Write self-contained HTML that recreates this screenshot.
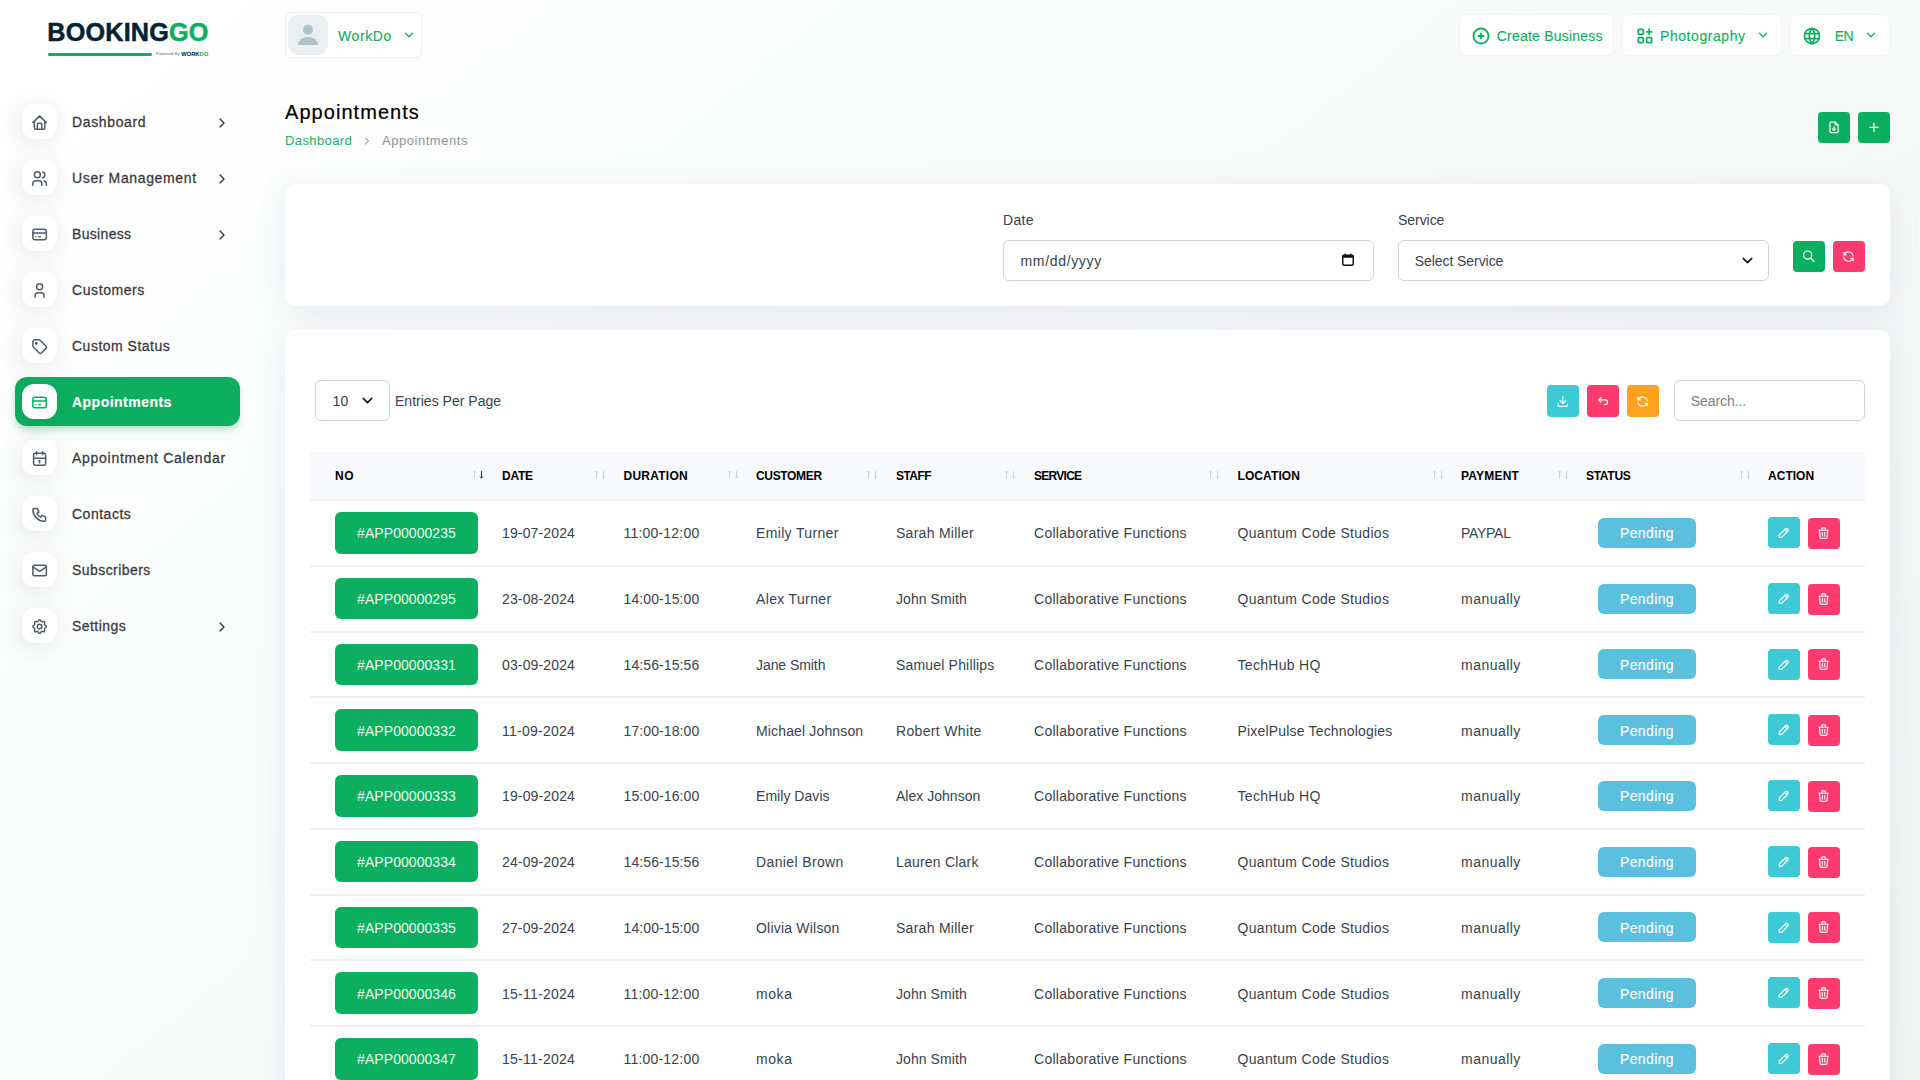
<!DOCTYPE html>
<html lang="en"><head><meta charset="utf-8"><title>Appointments</title>
<style>
*{box-sizing:border-box;margin:0;padding:0}
html,body{width:1920px;height:1080px;overflow:hidden;background:#fff}
body{font-family:"Liberation Sans", sans-serif;font-size:14px;color:#293240;position:relative;line-height:1.5}
a{color:inherit;text-decoration:none}
ul{list-style:none}
.abs{position:absolute}
.bg{position:absolute;left:0;top:0;width:1920px;height:1310px;background:linear-gradient(141.55deg,rgba(240,244,243,0) 3.46%,#f0f4f3 99.86%),#fff}
svg{display:block}
.tx{position:absolute;white-space:nowrap;line-height:1}
/* sidebar */
.side{position:absolute;left:0;top:0;width:280px;height:1080px}
.logo{position:absolute;left:47px;top:18px;width:165px;height:44px}
.nav li{position:absolute;left:15px;width:225px;height:49px;border-radius:12px}
.nav li.act{background:#0caf60;box-shadow:0 5px 7px -1px rgba(12,175,96,.3)}
.nav .mi{position:absolute;left:7px;top:7px;width:35px;height:35px;border-radius:12px;background:#fff;box-shadow:-3px 4px 23px rgba(0,0,0,.1)}
.nav .lbl{position:absolute;left:57px;top:18px;line-height:1;color:#333;white-space:nowrap}
.nav li.act .lbl{color:#fff}
.nav .arr{position:absolute;left:198.8px;top:17.5px}
/* header */
.hbox{position:absolute;background:#fff;border-radius:6px;box-shadow:0 0 0 1px rgba(0,0,0,.018),0 1px 2px rgba(0,0,0,.012)}
.card{position:absolute;background:#fff;border-radius:10px;box-shadow:0 6px 30px rgba(182,186,203,.3)}
.btn{position:absolute;border-radius:4px;display:block}
.btn svg{position:absolute}
.inp{position:absolute;background:#fff;border:1px solid #ced4da;border-radius:6px}
/* table */
.thead{position:absolute;left:25px;top:122px;width:1555px;height:47px;background:#f8f9fd}
.th{position:absolute;top:18px;line-height:1;color:#000;white-space:nowrap;text-transform:uppercase}
.row{position:absolute;left:25px;width:1555px;height:65.75px}
.row:before{content:'';position:absolute;left:0;top:-1px;width:100%;height:2px;background:#f0f0f0}
.cell{position:absolute;top:26.3px;line-height:1;white-space:nowrap;color:#293240}
.idb{position:absolute;left:25px;top:12.1px;width:143px;height:41.5px;border-radius:6px;background:#0caf60;color:#fff}
.ctr{position:absolute;left:0;width:100%;text-align:center;line-height:1;white-space:nowrap}
.badge{position:absolute;left:1288px;top:17.85px;width:98px;height:30px;border-radius:6px;background:#5bc0de;color:#fff}
.ab{position:absolute;width:32px;height:31px;border-radius:4px}
.sort{position:absolute;top:18px}
</style></head>
<body>
<div class="bg"></div>
<nav class="side">
<div class="logo"><span class="tx" style="left:0.3px;top:2px;font-size:25.2px;font-weight:700;letter-spacing:0.2px;-webkit-text-stroke:0.5px currentColor;color:#012333">BOOKING<b style="color:#0caf60">GO</b></span><i class="abs" style="left:1px;top:35.4px;width:104px;height:2.8px;border-radius:2px;background:#0caf60"></i><span class="tx" style="left:109px;top:34.4px;font-size:4.3px;color:#5b6670;letter-spacing:.05px">Powered By</span><span class="tx" style="left:134.2px;top:34px;font-size:5.8px;font-weight:700;color:#012333;letter-spacing:.0px">WORK<b style="color:#0caf60">DO</b></span></div>
<ul class="nav">
<li class="" style="top:97px"><a href="#"><span class="mi"><svg width="18" height="18" viewBox="-0.8 -0.8 24 24" fill="none" stroke="#525b69" stroke-width="2" stroke-linecap="round" stroke-linejoin="round" style="position:absolute;left:8px;top:9px;overflow:visible;" ><path d="M5 12l-2 0l9 -9l9 9l-2 0"/><path d="M5 12v7a2 2 0 0 0 2 2h10a2 2 0 0 0 2 -2v-7"/><path d="M9 21v-6a2 2 0 0 1 2 -2h2a2 2 0 0 1 2 2v6"/></svg></span><span class="lbl" style="font-size:14px;font-weight:400;opacity:0.97;-webkit-text-stroke:0.26px currentColor;letter-spacing:0.637px;">Dashboard</span><span class="arr"><svg width="16" height="16" viewBox="0 0 24 24" fill="none" stroke="#333" stroke-width="2" stroke-linecap="round" stroke-linejoin="round" style="" ><path d="M9 6l6 6l-6 6"/></svg></span></a></li>
<li class="" style="top:153px"><a href="#"><span class="mi"><svg width="18" height="18" viewBox="-0.8 -0.8 24 24" fill="none" stroke="#525b69" stroke-width="2" stroke-linecap="round" stroke-linejoin="round" style="position:absolute;left:8px;top:9px;overflow:visible;" ><path d="M9 7m-4 0a4 4 0 1 0 8 0a4 4 0 1 0 -8 0"/><path d="M3 21v-2a4 4 0 0 1 4 -4h4a4 4 0 0 1 4 4v2"/><path d="M16 3.13a4 4 0 0 1 0 7.75"/><path d="M21 21v-2a4 4 0 0 0 -3 -3.85"/></svg></span><span class="lbl" style="font-size:14px;font-weight:400;opacity:0.97;-webkit-text-stroke:0.26px currentColor;letter-spacing:0.634px;">User Management</span><span class="arr"><svg width="16" height="16" viewBox="0 0 24 24" fill="none" stroke="#333" stroke-width="2" stroke-linecap="round" stroke-linejoin="round" style="" ><path d="M9 6l6 6l-6 6"/></svg></span></a></li>
<li class="" style="top:209px"><a href="#"><span class="mi"><svg width="18" height="18" viewBox="-0.8 -0.8 24 24" fill="none" stroke="#525b69" stroke-width="2" stroke-linecap="round" stroke-linejoin="round" style="position:absolute;left:8px;top:9px;overflow:visible;" ><path d="M3 8a3 3 0 0 1 3 -3h12a3 3 0 0 1 3 3v8a3 3 0 0 1 -3 3h-12a3 3 0 0 1 -3 -3z"/><path d="M3 10l18 0"/><path d="M7 15l.01 0"/><path d="M11 15l2 0"/></svg></span><span class="lbl" style="font-size:14px;font-weight:400;opacity:0.97;-webkit-text-stroke:0.26px currentColor;letter-spacing:0.328px;">Business</span><span class="arr"><svg width="16" height="16" viewBox="0 0 24 24" fill="none" stroke="#333" stroke-width="2" stroke-linecap="round" stroke-linejoin="round" style="" ><path d="M9 6l6 6l-6 6"/></svg></span></a></li>
<li class="" style="top:265px"><a href="#"><span class="mi"><svg width="18" height="18" viewBox="-0.8 -0.8 24 24" fill="none" stroke="#525b69" stroke-width="2" stroke-linecap="round" stroke-linejoin="round" style="position:absolute;left:8px;top:9px;overflow:visible;" ><path d="M8 7a4 4 0 1 0 8 0a4 4 0 0 0 -8 0"/><path d="M6 21v-2a4 4 0 0 1 4 -4h4a4 4 0 0 1 4 4v2"/></svg></span><span class="lbl" style="font-size:14px;font-weight:400;opacity:0.97;-webkit-text-stroke:0.26px currentColor;letter-spacing:0.585px;">Customers</span></a></li>
<li class="" style="top:321px"><a href="#"><span class="mi"><svg width="18" height="18" viewBox="-0.8 -0.8 24 24" fill="none" stroke="#525b69" stroke-width="2" stroke-linecap="round" stroke-linejoin="round" style="position:absolute;left:8px;top:9px;overflow:visible;" ><path d="M7.5 7.5m-1 0a1 1 0 1 0 2 0a1 1 0 1 0 -2 0"/><path d="M3 6v5.172a2 2 0 0 0 .586 1.414l7.71 7.71a2.41 2.41 0 0 0 3.408 0l5.592 -5.592a2.41 2.41 0 0 0 0 -3.408l-7.71 -7.71a2 2 0 0 0 -1.414 -.586h-5.172a3 3 0 0 0 -3 3z"/></svg></span><span class="lbl" style="font-size:14px;font-weight:400;opacity:0.97;-webkit-text-stroke:0.26px currentColor;letter-spacing:0.495px;">Custom Status</span></a></li>
<li class="act" style="top:377px"><a href="#"><span class="mi"><svg width="18" height="18" viewBox="-0.8 -0.8 24 24" fill="none" stroke="#0caf60" stroke-width="2" stroke-linecap="round" stroke-linejoin="round" style="position:absolute;left:8px;top:9px;overflow:visible;" ><path d="M3 8a3 3 0 0 1 3 -3h12a3 3 0 0 1 3 3v8a3 3 0 0 1 -3 3h-12a3 3 0 0 1 -3 -3z"/><path d="M3 10l18 0"/><path d="M7 15l.01 0"/><path d="M11 15l2 0"/></svg></span><span class="lbl" style="font-size:14px;font-weight:700;-webkit-text-stroke:0.15px currentColor;letter-spacing:0.479px;">Appointments</span></a></li>
<li class="" style="top:433px"><a href="#"><span class="mi"><svg width="18" height="18" viewBox="-0.8 -0.8 24 24" fill="none" stroke="#525b69" stroke-width="2" stroke-linecap="round" stroke-linejoin="round" style="position:absolute;left:8px;top:9px;overflow:visible;" ><path d="M4 7a2 2 0 0 1 2 -2h12a2 2 0 0 1 2 2v12a2 2 0 0 1 -2 2h-12a2 2 0 0 1 -2 -2z"/><path d="M16 3l0 4"/><path d="M8 3l0 4"/><path d="M4 11.4l16 0"/><path d="M11 15h1"/><path d="M12 15v3"/></svg></span><span class="lbl" style="font-size:14px;font-weight:400;opacity:0.97;-webkit-text-stroke:0.26px currentColor;letter-spacing:0.724px;">Appointment Calendar</span></a></li>
<li class="" style="top:489px"><a href="#"><span class="mi"><svg width="18" height="18" viewBox="-0.8 -0.8 24 24" fill="none" stroke="#525b69" stroke-width="2" stroke-linecap="round" stroke-linejoin="round" style="position:absolute;left:8px;top:9px;overflow:visible;" ><path d="M5 4h4l2 5l-2.5 1.5a11 11 0 0 0 5 5l1.5 -2.5l5 2v4a2 2 0 0 1 -2 2a16 16 0 0 1 -15 -15a2 2 0 0 1 2 -2"/></svg></span><span class="lbl" style="font-size:14px;font-weight:400;opacity:0.97;-webkit-text-stroke:0.26px currentColor;letter-spacing:0.504px;">Contacts</span></a></li>
<li class="" style="top:545px"><a href="#"><span class="mi"><svg width="18" height="18" viewBox="-0.8 -0.8 24 24" fill="none" stroke="#525b69" stroke-width="2" stroke-linecap="round" stroke-linejoin="round" style="position:absolute;left:8px;top:9px;overflow:visible;" ><path d="M3 7a2 2 0 0 1 2 -2h14a2 2 0 0 1 2 2v10a2 2 0 0 1 -2 2h-14a2 2 0 0 1 -2 -2v-10z"/><path d="M3 7l9 6l9 -6"/></svg></span><span class="lbl" style="font-size:14px;font-weight:400;opacity:0.97;-webkit-text-stroke:0.26px currentColor;letter-spacing:0.432px;">Subscribers</span></a></li>
<li class="" style="top:601px"><a href="#"><span class="mi"><svg width="18" height="18" viewBox="-0.8 -0.8 24 24" fill="none" stroke="#525b69" stroke-width="2" stroke-linecap="round" stroke-linejoin="round" style="position:absolute;left:8px;top:9px;overflow:visible;" ><path d="M10.325 4.317c.426 -1.756 2.924 -1.756 3.35 0a1.724 1.724 0 0 0 2.573 1.066c1.543 -.94 3.31 .826 2.37 2.37a1.724 1.724 0 0 0 1.065 2.572c1.756 .426 1.756 2.924 0 3.35a1.724 1.724 0 0 0 -1.066 2.573c.94 1.543 -.826 3.31 -2.37 2.37a1.724 1.724 0 0 0 -2.572 1.065c-.426 1.756 -2.924 1.756 -3.35 0a1.724 1.724 0 0 0 -2.573 -1.066c-1.543 .94 -3.31 -.826 -2.37 -2.37a1.724 1.724 0 0 0 -1.065 -2.572c-1.756 -.426 -1.756 -2.924 0 -3.35a1.724 1.724 0 0 0 1.066 -2.573c-.94 -1.543 .826 -3.31 2.37 -2.37c1 .608 2.296 .07 2.572 -1.065z"/><path d="M9 12a3 3 0 1 0 6 0a3 3 0 0 0 -6 0"/></svg></span><span class="lbl" style="font-size:14px;font-weight:400;opacity:0.97;-webkit-text-stroke:0.26px currentColor;letter-spacing:0.453px;">Settings</span><span class="arr"><svg width="16" height="16" viewBox="0 0 24 24" fill="none" stroke="#333" stroke-width="2" stroke-linecap="round" stroke-linejoin="round" style="" ><path d="M9 6l6 6l-6 6"/></svg></span></a></li>
</ul></nav>
<header><div class="hbox" style="left:285px;top:12px;width:137px;height:46px;border:1px solid #f1f1f1;box-shadow:none;border-radius:5px"><span class="abs" style="left:2px;top:2px;width:40px;height:40px;border-radius:11px;background:#eaeff1;overflow:hidden"><svg width="40" height="40" viewBox="0 0 40 40"><circle cx="20" cy="14.8" r="5" fill="#b0c3cc"/><path d="M10 30 a10 8 0 0 1 20 0 z" fill="#b0c3cc"/></svg></span><span class="tx" style="font-size:14px;font-weight:400;-webkit-text-stroke:0.12px currentColor;letter-spacing:0.587px;left:52px;top:16px;color:#0caf60">WorkDo</span><span class="abs" style="left:116px;top:15px"><svg width="14" height="14" viewBox="0 0 24 24" fill="none" stroke="#0caf60" stroke-width="2.1" stroke-linecap="round" stroke-linejoin="round" style="" ><path d="M6 9l6 6l6 -6"/></svg></span></div>
<div class="hbox" style="left:1460px;top:15px;width:153px;height:40px"><span class="abs" style="left:11px;top:10.5px"><svg width="20" height="20" viewBox="0 0 24 24" fill="none" stroke="#0caf60" stroke-width="2.2" stroke-linecap="round" stroke-linejoin="round" style="" ><path d="M3 12a9 9 0 1 0 18 0a9 9 0 0 0 -18 0"/><path d="M9 12h6"/><path d="M12 9v6"/></svg></span><span class="tx" style="font-size:14px;font-weight:400;-webkit-text-stroke:0.12px currentColor;letter-spacing:0.221px;left:36.7px;top:14px;color:#0caf60">Create Business</span></div>
<div class="hbox" style="left:1623px;top:15px;width:158px;height:40px"><span class="abs" style="left:12px;top:10.5px"><svg width="20" height="20" viewBox="0 0 24 24" fill="none" stroke="#0caf60" stroke-width="2.1" stroke-linecap="round" stroke-linejoin="round" style="" ><path d="M4 5a1 1 0 0 1 1 -1h4a1 1 0 0 1 1 1v4a1 1 0 0 1 -1 1h-4a1 1 0 0 1 -1 -1z"/><path d="M4 15a1 1 0 0 1 1 -1h4a1 1 0 0 1 1 1v4a1 1 0 0 1 -1 1h-4a1 1 0 0 1 -1 -1z"/><path d="M14 15a1 1 0 0 1 1 -1h4a1 1 0 0 1 1 1v4a1 1 0 0 1 -1 1h-4a1 1 0 0 1 -1 -1z"/><path d="M14 7l6 0"/><path d="M17 4l0 6"/></svg></span><span class="tx" style="font-size:14px;font-weight:400;-webkit-text-stroke:0.12px currentColor;letter-spacing:0.566px;left:37px;top:14px;color:#0caf60">Photography</span><span class="abs" style="left:133px;top:13px"><svg width="14" height="14" viewBox="0 0 24 24" fill="none" stroke="#0caf60" stroke-width="2.1" stroke-linecap="round" stroke-linejoin="round" style="" ><path d="M6 9l6 6l6 -6"/></svg></span></div>
<div class="hbox" style="left:1791px;top:15px;width:98px;height:40px"><span class="abs" style="left:11px;top:10.5px"><svg width="20" height="20" viewBox="0 0 24 24" fill="none" stroke="#0caf60" stroke-width="2.1" stroke-linecap="round" stroke-linejoin="round" style="" ><path d="M3 12a9 9 0 1 0 18 0a9 9 0 0 0 -18 0"/><path d="M3.6 9h16.8"/><path d="M3.6 15h16.8"/><path d="M11.5 3a17 17 0 0 0 0 18"/><path d="M12.5 3a17 17 0 0 1 0 18"/></svg></span><span class="tx" style="font-size:14px;font-weight:400;-webkit-text-stroke:0.12px currentColor;letter-spacing:-0.449px;left:43.7px;top:14px;color:#0caf60">EN</span><span class="abs" style="left:73px;top:13px"><svg width="14" height="14" viewBox="0 0 24 24" fill="none" stroke="#0caf60" stroke-width="2.1" stroke-linecap="round" stroke-linejoin="round" style="" ><path d="M6 9l6 6l6 -6"/></svg></span></div></header>
<main><h4 class="tx" style="font-size:20px;font-weight:400;-webkit-text-stroke:0.2px currentColor;letter-spacing:1.048px;left:285px;top:102px;color:#000;font-size:20px">Appointments</h4>
<ul class="breadcrumb">
<li><a class="tx" style="font-size:13px;font-weight:400;opacity:0.955;letter-spacing:0.387px;left:285px;top:134px;color:#0caf60">Dashboard</a></li>
<li><span class="abs" style="left:361px;top:134.5px"><svg width="12" height="12" viewBox="0 0 24 24" fill="none" stroke="#6c757d" stroke-width="2" stroke-linecap="round" stroke-linejoin="round" style="" ><path d="M9 6l6 6l-6 6"/></svg></span>
<span class="tx" style="font-size:13px;font-weight:400;opacity:0.955;letter-spacing:0.540px;left:382px;top:134px;color:#8a9099">Appointments</span></li></ul>
<a class="btn" style="left:1818px;top:112px;width:32px;height:31px;background:#0caf60"><svg width="14" height="14" viewBox="-0 -0.6 24 24" fill="none" stroke="#fff" stroke-width="2" stroke-linecap="round" stroke-linejoin="round" style="position:absolute;left:9px;top:8px;overflow:visible;" ><path d="M14 3v4a1 1 0 0 0 1 1h4"/><path d="M17 21h-10a2 2 0 0 1 -2 -2v-14a2 2 0 0 1 2 -2h7l5 5v11a2 2 0 0 1 -2 2z"/><path d="M12 17v-6"/><path d="M9.5 14.5l2.5 2.5l2.5 -2.5"/></svg></a>
<a class="btn" style="left:1858px;top:112px;width:32px;height:31px;background:#0caf60"><svg width="14" height="14" viewBox="-0 -0.771 24 24" fill="none" stroke="#fff" stroke-width="2.1" stroke-linecap="round" stroke-linejoin="round" style="position:absolute;left:9px;top:8px;overflow:visible;" ><path d="M12 5l0 14"/><path d="M5 12l14 0"/></svg></a>
<section class="card" style="left:285px;top:184px;width:1605px;height:122px">
<label class="tx" style="font-size:14px;font-weight:400;opacity:0.925;letter-spacing:0.305px;left:718px;top:28.5px;color:#293240">Date</label>
<div class="inp" style="left:718px;top:56px;width:371px;height:41px"><span class="tx" style="font-size:14px;font-weight:400;opacity:0.925;letter-spacing:0.669px;left:16.5px;top:12.5px;color:#293240">mm/dd/yyyy</span><svg class="abs" style="left:336px;top:11px" width="16" height="16" viewBox="0 0 16 16"><rect x="2.75" y="3.25" width="10.5" height="10" rx="1.2" fill="none" stroke="#111" stroke-width="1.5"/><rect x="2.75" y="3.25" width="10.5" height="2.5" fill="#111"/><rect x="4.5" y="1.7" width="1.5" height="2.2" fill="#111"/><rect x="10" y="1.7" width="1.5" height="2.2" fill="#111"/></svg></div>
<label class="tx" style="font-size:14px;font-weight:400;opacity:0.925;letter-spacing:-0.047px;left:1113px;top:28.5px;color:#293240">Service</label>
<div class="inp" style="left:1113px;top:56px;width:371px;height:41px"><span class="tx" style="font-size:14px;font-weight:400;opacity:0.925;letter-spacing:-0.061px;left:15.7px;top:12.5px;color:#293240">Select Service</span><span class="abs" style="left:339.5px;top:10.5px"><svg width="17" height="17" viewBox="0 0 24 24" fill="none" stroke="#111" stroke-width="2.1" stroke-linecap="round" stroke-linejoin="round" style="" ><path d="M6 9l6 6l6 -6"/></svg></span></div>
<a class="btn" style="left:1508px;top:57px;width:32px;height:31px;background:#0caf60"><svg width="14" height="14" viewBox="-1.46 -0.429 24 24" fill="none" stroke="#fff" stroke-width="2" stroke-linecap="round" stroke-linejoin="round" style="position:absolute;left:8px;top:8px;overflow:visible;" ><path d="M3 10a7 7 0 1 0 14 0a7 7 0 1 0 -14 0"/><path d="M21 21l-6 -6"/></svg></a>
<a class="btn" style="left:1548px;top:57px;width:32px;height:31px;background:#ff3a6e"><svg width="14" height="14" viewBox="-0.857 -1.03 24 24" fill="none" stroke="#fff" stroke-width="2" stroke-linecap="round" stroke-linejoin="round" style="position:absolute;left:8px;top:8px;overflow:visible;" ><path d="M20 11a8.1 8.1 0 0 0 -15.5 -2m-.5 -4v4h4"/><path d="M4 13a8.1 8.1 0 0 0 15.5 2m.5 4v-4h-4"/></svg></a>
</section>
<section class="card" style="left:285px;top:330px;width:1605px;height:960px">
<div class="inp" style="left:30px;top:50px;width:75px;height:41px"><span class="tx" style="font-size:14px;font-weight:400;opacity:0.925;letter-spacing:0.219px;left:16.5px;top:12.5px;color:#293240">10</span><span class="abs" style="left:43px;top:10.5px"><svg width="17" height="17" viewBox="0 0 24 24" fill="none" stroke="#111" stroke-width="2.1" stroke-linecap="round" stroke-linejoin="round" style="" ><path d="M6 9l6 6l6 -6"/></svg></span></div>
<label class="tx" style="font-size:14px;font-weight:400;opacity:0.925;letter-spacing:0.016px;left:110px;top:64px;color:#293240">Entries Per Page</label>
<a class="btn" style="left:1262px;top:55px;width:32px;height:32px;background:#3ec9d6"><svg width="14" height="14" viewBox="-1.37 -0.343 24 24" fill="none" stroke="#fff" stroke-width="2" stroke-linecap="round" stroke-linejoin="round" style="position:absolute;left:8px;top:9px;overflow:visible;" ><path d="M4 17v2a2 2 0 0 0 2 2h12a2 2 0 0 0 2 -2v-2"/><path d="M7 11l5 5l5 -5"/><path d="M12 4l0 12"/></svg></a>
<a class="btn" style="left:1302px;top:55px;width:32px;height:32px;background:#ff3a6e"><svg width="14" height="14" viewBox="-1.37 -0 24 24" fill="none" stroke="#fff" stroke-width="2" stroke-linecap="round" stroke-linejoin="round" style="position:absolute;left:8px;top:9px;overflow:visible;" ><path d="M9 14l-4 -4l4 -4"/><path d="M5 10h11a4 4 0 1 1 0 8h-1"/></svg></a>
<a class="btn" style="left:1342px;top:55px;width:32px;height:32px;background:#ffa21d"><svg width="14" height="14" viewBox="-1.11 -1.03 24 24" fill="none" stroke="#fff" stroke-width="2" stroke-linecap="round" stroke-linejoin="round" style="position:absolute;left:8px;top:9px;overflow:visible;" ><path d="M20 11a8.1 8.1 0 0 0 -15.5 -2m-.5 -4v4h4"/><path d="M4 13a8.1 8.1 0 0 0 15.5 2m.5 4v-4h-4"/></svg></a>
<div class="inp" style="left:1389px;top:50px;width:191px;height:41px"><span class="tx" style="font-size:14px;font-weight:400;opacity:0.925;letter-spacing:-0.073px;left:15.7px;top:12.5px;color:#6c757d">Search...</span></div>
<div class="thead" role="row">
<span class="th" style="font-size:12px;font-weight:700;letter-spacing:0.656px;left:25px">NO</span>
<svg class="sort" style="left:163px" width="11" height="10" viewBox="0 0 11 10" fill="none" stroke-width="1" stroke-linecap="butt"><path d="M1.5 8.2V1M0 2.6L1.5 1L3 2.6" stroke="#cdd0d6"/><path d="M8.5 1v7.2M7 6.6L8.5 8.2L10 6.6" stroke="#33373e"/></svg>
<span class="th" style="font-size:12px;font-weight:700;letter-spacing:-0.234px;left:192px">DATE</span>
<svg class="sort" style="left:284.5px" width="11" height="10" viewBox="0 0 11 10" fill="none" stroke-width="1" stroke-linecap="butt"><path d="M1.5 8.2V1M0 2.6L1.5 1L3 2.6" stroke="#cdd0d6"/><path d="M8.5 1v7.2M7 6.6L8.5 8.2L10 6.6" stroke="#cdd0d6"/></svg>
<span class="th" style="font-size:12px;font-weight:700;letter-spacing:0.244px;left:313.5px">DURATION</span>
<svg class="sort" style="left:417.5px" width="11" height="10" viewBox="0 0 11 10" fill="none" stroke-width="1" stroke-linecap="butt"><path d="M1.5 8.2V1M0 2.6L1.5 1L3 2.6" stroke="#cdd0d6"/><path d="M8.5 1v7.2M7 6.6L8.5 8.2L10 6.6" stroke="#cdd0d6"/></svg>
<span class="th" style="font-size:12px;font-weight:700;letter-spacing:-0.332px;left:446px">CUSTOMER</span>
<svg class="sort" style="left:557px" width="11" height="10" viewBox="0 0 11 10" fill="none" stroke-width="1" stroke-linecap="butt"><path d="M1.5 8.2V1M0 2.6L1.5 1L3 2.6" stroke="#cdd0d6"/><path d="M8.5 1v7.2M7 6.6L8.5 8.2L10 6.6" stroke="#cdd0d6"/></svg>
<span class="th" style="font-size:12px;font-weight:700;letter-spacing:-0.553px;left:586px">STAFF</span>
<svg class="sort" style="left:695px" width="11" height="10" viewBox="0 0 11 10" fill="none" stroke-width="1" stroke-linecap="butt"><path d="M1.5 8.2V1M0 2.6L1.5 1L3 2.6" stroke="#cdd0d6"/><path d="M8.5 1v7.2M7 6.6L8.5 8.2L10 6.6" stroke="#cdd0d6"/></svg>
<span class="th" style="font-size:12px;font-weight:700;letter-spacing:-0.725px;left:724px">SERVICE</span>
<svg class="sort" style="left:898.5px" width="11" height="10" viewBox="0 0 11 10" fill="none" stroke-width="1" stroke-linecap="butt"><path d="M1.5 8.2V1M0 2.6L1.5 1L3 2.6" stroke="#cdd0d6"/><path d="M8.5 1v7.2M7 6.6L8.5 8.2L10 6.6" stroke="#cdd0d6"/></svg>
<span class="th" style="font-size:12px;font-weight:700;letter-spacing:0.088px;left:927.5px">LOCATION</span>
<svg class="sort" style="left:1122.5px" width="11" height="10" viewBox="0 0 11 10" fill="none" stroke-width="1" stroke-linecap="butt"><path d="M1.5 8.2V1M0 2.6L1.5 1L3 2.6" stroke="#cdd0d6"/><path d="M8.5 1v7.2M7 6.6L8.5 8.2L10 6.6" stroke="#cdd0d6"/></svg>
<span class="th" style="font-size:12px;font-weight:700;letter-spacing:0.194px;left:1151px">PAYMENT</span>
<svg class="sort" style="left:1247.5px" width="11" height="10" viewBox="0 0 11 10" fill="none" stroke-width="1" stroke-linecap="butt"><path d="M1.5 8.2V1M0 2.6L1.5 1L3 2.6" stroke="#cdd0d6"/><path d="M8.5 1v7.2M7 6.6L8.5 8.2L10 6.6" stroke="#cdd0d6"/></svg>
<span class="th" style="font-size:12px;font-weight:700;letter-spacing:-0.292px;left:1276px">STATUS</span>
<svg class="sort" style="left:1430px" width="11" height="10" viewBox="0 0 11 10" fill="none" stroke-width="1" stroke-linecap="butt"><path d="M1.5 8.2V1M0 2.6L1.5 1L3 2.6" stroke="#cdd0d6"/><path d="M8.5 1v7.2M7 6.6L8.5 8.2L10 6.6" stroke="#cdd0d6"/></svg>
<span class="th" style="font-size:12px;font-weight:700;letter-spacing:0.026px;left:1458px">ACTION</span>
</div>
<div class="row" role="row" style="top:170.0px">
<a class="idb" href="#"><span class="ctr" style="font-size:14px;font-weight:400;opacity:0.925;letter-spacing:0.057px;top:14.2px">#APP00000235</span></a>
<span class="cell" style="font-size:14px;font-weight:400;opacity:0.925;letter-spacing:0.144px;left:192px">19-07-2024</span>
<span class="cell" style="font-size:14px;font-weight:400;opacity:0.925;letter-spacing:0.200px;left:313.5px">11:00-12:00</span>
<span class="cell" style="font-size:14px;font-weight:400;opacity:0.925;letter-spacing:0.340px;left:446px">Emily Turner</span>
<span class="cell" style="font-size:14px;font-weight:400;opacity:0.925;letter-spacing:0.272px;left:586px">Sarah Miller</span>
<span class="cell" style="font-size:14px;font-weight:400;opacity:0.925;letter-spacing:0.287px;left:724px">Collaborative Functions</span>
<span class="cell" style="font-size:14px;font-weight:400;opacity:0.925;letter-spacing:0.312px;left:927.5px">Quantum Code Studios</span>
<span class="cell" style="font-size:14px;font-weight:400;opacity:0.925;letter-spacing:-0.279px;left:1151px">PAYPAL</span>
<span class="badge"><span class="ctr" style="font-size:14px;font-weight:400;-webkit-text-stroke:0.12px currentColor;letter-spacing:0.373px;top:8.45px">Pending</span></span>
<a class="ab" style="left:1458px;top:17.2px;background:#3ec9d6"><svg width="14" height="14" viewBox="-1.54 -1.2 24 24" fill="none" stroke="#fff" stroke-width="2" stroke-linecap="round" stroke-linejoin="round" style="position:absolute;left:8px;top:8px;overflow:visible;" ><path d="M4 20h4l10.5 -10.5a1.5 1.5 0 0 0 -4 -4l-10.5 10.5v4"/><path d="M13.5 6.5l4 4"/></svg></a>
<a class="ab" style="left:1498px;top:17.85px;background:#ff3a6e"><svg width="14" height="14" viewBox="-1.03 -0.343 24 24" fill="none" stroke="#fff" stroke-width="2" stroke-linecap="round" stroke-linejoin="round" style="position:absolute;left:8px;top:8px;overflow:visible;" ><path d="M4 7l16 0"/><path d="M10 11l0 6"/><path d="M14 11l0 6"/><path d="M5 7l1 12a2 2 0 0 0 2 2h8a2 2 0 0 0 2 -2l1 -12"/><path d="M9 7v-3a1 1 0 0 1 1 -1h4a1 1 0 0 1 1 1v3"/></svg></a>
</div>
<div class="row" role="row" style="top:235.75px">
<a class="idb" href="#"><span class="ctr" style="font-size:14px;font-weight:400;opacity:0.925;letter-spacing:0.057px;top:14.2px">#APP00000295</span></a>
<span class="cell" style="font-size:14px;font-weight:400;opacity:0.925;letter-spacing:0.144px;left:192px">23-08-2024</span>
<span class="cell" style="font-size:14px;font-weight:400;opacity:0.925;letter-spacing:0.107px;left:313.5px">14:00-15:00</span>
<span class="cell" style="font-size:14px;font-weight:400;opacity:0.925;letter-spacing:0.347px;left:446px">Alex Turner</span>
<span class="cell" style="font-size:14px;font-weight:400;opacity:0.925;letter-spacing:0.070px;left:586px">John Smith</span>
<span class="cell" style="font-size:14px;font-weight:400;opacity:0.925;letter-spacing:0.287px;left:724px">Collaborative Functions</span>
<span class="cell" style="font-size:14px;font-weight:400;opacity:0.925;letter-spacing:0.312px;left:927.5px">Quantum Code Studios</span>
<span class="cell" style="font-size:14px;font-weight:400;opacity:0.925;letter-spacing:0.469px;left:1151px">manually</span>
<span class="badge"><span class="ctr" style="font-size:14px;font-weight:400;-webkit-text-stroke:0.12px currentColor;letter-spacing:0.373px;top:8.45px">Pending</span></span>
<a class="ab" style="left:1458px;top:17.2px;background:#3ec9d6"><svg width="14" height="14" viewBox="-1.54 -1.2 24 24" fill="none" stroke="#fff" stroke-width="2" stroke-linecap="round" stroke-linejoin="round" style="position:absolute;left:8px;top:8px;overflow:visible;" ><path d="M4 20h4l10.5 -10.5a1.5 1.5 0 0 0 -4 -4l-10.5 10.5v4"/><path d="M13.5 6.5l4 4"/></svg></a>
<a class="ab" style="left:1498px;top:17.85px;background:#ff3a6e"><svg width="14" height="14" viewBox="-1.03 -0.343 24 24" fill="none" stroke="#fff" stroke-width="2" stroke-linecap="round" stroke-linejoin="round" style="position:absolute;left:8px;top:8px;overflow:visible;" ><path d="M4 7l16 0"/><path d="M10 11l0 6"/><path d="M14 11l0 6"/><path d="M5 7l1 12a2 2 0 0 0 2 2h8a2 2 0 0 0 2 -2l1 -12"/><path d="M9 7v-3a1 1 0 0 1 1 -1h4a1 1 0 0 1 1 1v3"/></svg></a>
</div>
<div class="row" role="row" style="top:301.5px">
<a class="idb" href="#"><span class="ctr" style="font-size:14px;font-weight:400;opacity:0.925;letter-spacing:0.057px;top:14.2px">#APP00000331</span></a>
<span class="cell" style="font-size:14px;font-weight:400;opacity:0.925;letter-spacing:0.144px;left:192px">03-09-2024</span>
<span class="cell" style="font-size:14px;font-weight:400;opacity:0.925;letter-spacing:0.107px;left:313.5px">14:56-15:56</span>
<span class="cell" style="font-size:14px;font-weight:400;opacity:0.925;letter-spacing:-0.067px;left:446px">Jane Smith</span>
<span class="cell" style="font-size:14px;font-weight:400;opacity:0.925;letter-spacing:0.180px;left:586px">Samuel Phillips</span>
<span class="cell" style="font-size:14px;font-weight:400;opacity:0.925;letter-spacing:0.287px;left:724px">Collaborative Functions</span>
<span class="cell" style="font-size:14px;font-weight:400;opacity:0.925;letter-spacing:0.303px;left:927.5px">TechHub HQ</span>
<span class="cell" style="font-size:14px;font-weight:400;opacity:0.925;letter-spacing:0.469px;left:1151px">manually</span>
<span class="badge"><span class="ctr" style="font-size:14px;font-weight:400;-webkit-text-stroke:0.12px currentColor;letter-spacing:0.373px;top:8.45px">Pending</span></span>
<a class="ab" style="left:1458px;top:17.2px;background:#3ec9d6"><svg width="14" height="14" viewBox="-1.54 -1.2 24 24" fill="none" stroke="#fff" stroke-width="2" stroke-linecap="round" stroke-linejoin="round" style="position:absolute;left:8px;top:8px;overflow:visible;" ><path d="M4 20h4l10.5 -10.5a1.5 1.5 0 0 0 -4 -4l-10.5 10.5v4"/><path d="M13.5 6.5l4 4"/></svg></a>
<a class="ab" style="left:1498px;top:17.85px;background:#ff3a6e"><svg width="14" height="14" viewBox="-1.03 -0.343 24 24" fill="none" stroke="#fff" stroke-width="2" stroke-linecap="round" stroke-linejoin="round" style="position:absolute;left:8px;top:8px;overflow:visible;" ><path d="M4 7l16 0"/><path d="M10 11l0 6"/><path d="M14 11l0 6"/><path d="M5 7l1 12a2 2 0 0 0 2 2h8a2 2 0 0 0 2 -2l1 -12"/><path d="M9 7v-3a1 1 0 0 1 1 -1h4a1 1 0 0 1 1 1v3"/></svg></a>
</div>
<div class="row" role="row" style="top:367.25px">
<a class="idb" href="#"><span class="ctr" style="font-size:14px;font-weight:400;opacity:0.925;letter-spacing:0.057px;top:14.2px">#APP00000332</span></a>
<span class="cell" style="font-size:14px;font-weight:400;opacity:0.925;letter-spacing:0.248px;left:192px">11-09-2024</span>
<span class="cell" style="font-size:14px;font-weight:400;opacity:0.925;letter-spacing:0.107px;left:313.5px">17:00-18:00</span>
<span class="cell" style="font-size:14px;font-weight:400;opacity:0.925;letter-spacing:0.147px;left:446px">Michael Johnson</span>
<span class="cell" style="font-size:14px;font-weight:400;opacity:0.925;letter-spacing:0.337px;left:586px">Robert White</span>
<span class="cell" style="font-size:14px;font-weight:400;opacity:0.925;letter-spacing:0.287px;left:724px">Collaborative Functions</span>
<span class="cell" style="font-size:14px;font-weight:400;opacity:0.925;letter-spacing:0.181px;left:927.5px">PixelPulse Technologies</span>
<span class="cell" style="font-size:14px;font-weight:400;opacity:0.925;letter-spacing:0.469px;left:1151px">manually</span>
<span class="badge"><span class="ctr" style="font-size:14px;font-weight:400;-webkit-text-stroke:0.12px currentColor;letter-spacing:0.373px;top:8.45px">Pending</span></span>
<a class="ab" style="left:1458px;top:17.2px;background:#3ec9d6"><svg width="14" height="14" viewBox="-1.54 -1.2 24 24" fill="none" stroke="#fff" stroke-width="2" stroke-linecap="round" stroke-linejoin="round" style="position:absolute;left:8px;top:8px;overflow:visible;" ><path d="M4 20h4l10.5 -10.5a1.5 1.5 0 0 0 -4 -4l-10.5 10.5v4"/><path d="M13.5 6.5l4 4"/></svg></a>
<a class="ab" style="left:1498px;top:17.85px;background:#ff3a6e"><svg width="14" height="14" viewBox="-1.03 -0.343 24 24" fill="none" stroke="#fff" stroke-width="2" stroke-linecap="round" stroke-linejoin="round" style="position:absolute;left:8px;top:8px;overflow:visible;" ><path d="M4 7l16 0"/><path d="M10 11l0 6"/><path d="M14 11l0 6"/><path d="M5 7l1 12a2 2 0 0 0 2 2h8a2 2 0 0 0 2 -2l1 -12"/><path d="M9 7v-3a1 1 0 0 1 1 -1h4a1 1 0 0 1 1 1v3"/></svg></a>
</div>
<div class="row" role="row" style="top:433.0px">
<a class="idb" href="#"><span class="ctr" style="font-size:14px;font-weight:400;opacity:0.925;letter-spacing:0.057px;top:14.2px">#APP00000333</span></a>
<span class="cell" style="font-size:14px;font-weight:400;opacity:0.925;letter-spacing:0.144px;left:192px">19-09-2024</span>
<span class="cell" style="font-size:14px;font-weight:400;opacity:0.925;letter-spacing:0.107px;left:313.5px">15:00-16:00</span>
<span class="cell" style="font-size:14px;font-weight:400;opacity:0.925;letter-spacing:0.044px;left:446px">Emily Davis</span>
<span class="cell" style="font-size:14px;font-weight:400;opacity:0.925;letter-spacing:0.016px;left:586px">Alex Johnson</span>
<span class="cell" style="font-size:14px;font-weight:400;opacity:0.925;letter-spacing:0.287px;left:724px">Collaborative Functions</span>
<span class="cell" style="font-size:14px;font-weight:400;opacity:0.925;letter-spacing:0.303px;left:927.5px">TechHub HQ</span>
<span class="cell" style="font-size:14px;font-weight:400;opacity:0.925;letter-spacing:0.469px;left:1151px">manually</span>
<span class="badge"><span class="ctr" style="font-size:14px;font-weight:400;-webkit-text-stroke:0.12px currentColor;letter-spacing:0.373px;top:8.45px">Pending</span></span>
<a class="ab" style="left:1458px;top:17.2px;background:#3ec9d6"><svg width="14" height="14" viewBox="-1.54 -1.2 24 24" fill="none" stroke="#fff" stroke-width="2" stroke-linecap="round" stroke-linejoin="round" style="position:absolute;left:8px;top:8px;overflow:visible;" ><path d="M4 20h4l10.5 -10.5a1.5 1.5 0 0 0 -4 -4l-10.5 10.5v4"/><path d="M13.5 6.5l4 4"/></svg></a>
<a class="ab" style="left:1498px;top:17.85px;background:#ff3a6e"><svg width="14" height="14" viewBox="-1.03 -0.343 24 24" fill="none" stroke="#fff" stroke-width="2" stroke-linecap="round" stroke-linejoin="round" style="position:absolute;left:8px;top:8px;overflow:visible;" ><path d="M4 7l16 0"/><path d="M10 11l0 6"/><path d="M14 11l0 6"/><path d="M5 7l1 12a2 2 0 0 0 2 2h8a2 2 0 0 0 2 -2l1 -12"/><path d="M9 7v-3a1 1 0 0 1 1 -1h4a1 1 0 0 1 1 1v3"/></svg></a>
</div>
<div class="row" role="row" style="top:498.75px">
<a class="idb" href="#"><span class="ctr" style="font-size:14px;font-weight:400;opacity:0.925;letter-spacing:0.057px;top:14.2px">#APP00000334</span></a>
<span class="cell" style="font-size:14px;font-weight:400;opacity:0.925;letter-spacing:0.144px;left:192px">24-09-2024</span>
<span class="cell" style="font-size:14px;font-weight:400;opacity:0.925;letter-spacing:0.107px;left:313.5px">14:56-15:56</span>
<span class="cell" style="font-size:14px;font-weight:400;opacity:0.925;letter-spacing:0.371px;left:446px">Daniel Brown</span>
<span class="cell" style="font-size:14px;font-weight:400;opacity:0.925;letter-spacing:0.211px;left:586px">Lauren Clark</span>
<span class="cell" style="font-size:14px;font-weight:400;opacity:0.925;letter-spacing:0.287px;left:724px">Collaborative Functions</span>
<span class="cell" style="font-size:14px;font-weight:400;opacity:0.925;letter-spacing:0.312px;left:927.5px">Quantum Code Studios</span>
<span class="cell" style="font-size:14px;font-weight:400;opacity:0.925;letter-spacing:0.469px;left:1151px">manually</span>
<span class="badge"><span class="ctr" style="font-size:14px;font-weight:400;-webkit-text-stroke:0.12px currentColor;letter-spacing:0.373px;top:8.45px">Pending</span></span>
<a class="ab" style="left:1458px;top:17.2px;background:#3ec9d6"><svg width="14" height="14" viewBox="-1.54 -1.2 24 24" fill="none" stroke="#fff" stroke-width="2" stroke-linecap="round" stroke-linejoin="round" style="position:absolute;left:8px;top:8px;overflow:visible;" ><path d="M4 20h4l10.5 -10.5a1.5 1.5 0 0 0 -4 -4l-10.5 10.5v4"/><path d="M13.5 6.5l4 4"/></svg></a>
<a class="ab" style="left:1498px;top:17.85px;background:#ff3a6e"><svg width="14" height="14" viewBox="-1.03 -0.343 24 24" fill="none" stroke="#fff" stroke-width="2" stroke-linecap="round" stroke-linejoin="round" style="position:absolute;left:8px;top:8px;overflow:visible;" ><path d="M4 7l16 0"/><path d="M10 11l0 6"/><path d="M14 11l0 6"/><path d="M5 7l1 12a2 2 0 0 0 2 2h8a2 2 0 0 0 2 -2l1 -12"/><path d="M9 7v-3a1 1 0 0 1 1 -1h4a1 1 0 0 1 1 1v3"/></svg></a>
</div>
<div class="row" role="row" style="top:564.5px">
<a class="idb" href="#"><span class="ctr" style="font-size:14px;font-weight:400;opacity:0.925;letter-spacing:0.057px;top:14.2px">#APP00000335</span></a>
<span class="cell" style="font-size:14px;font-weight:400;opacity:0.925;letter-spacing:0.144px;left:192px">27-09-2024</span>
<span class="cell" style="font-size:14px;font-weight:400;opacity:0.925;letter-spacing:0.107px;left:313.5px">14:00-15:00</span>
<span class="cell" style="font-size:14px;font-weight:400;opacity:0.925;letter-spacing:0.206px;left:446px">Olivia Wilson</span>
<span class="cell" style="font-size:14px;font-weight:400;opacity:0.925;letter-spacing:0.272px;left:586px">Sarah Miller</span>
<span class="cell" style="font-size:14px;font-weight:400;opacity:0.925;letter-spacing:0.287px;left:724px">Collaborative Functions</span>
<span class="cell" style="font-size:14px;font-weight:400;opacity:0.925;letter-spacing:0.312px;left:927.5px">Quantum Code Studios</span>
<span class="cell" style="font-size:14px;font-weight:400;opacity:0.925;letter-spacing:0.469px;left:1151px">manually</span>
<span class="badge"><span class="ctr" style="font-size:14px;font-weight:400;-webkit-text-stroke:0.12px currentColor;letter-spacing:0.373px;top:8.45px">Pending</span></span>
<a class="ab" style="left:1458px;top:17.2px;background:#3ec9d6"><svg width="14" height="14" viewBox="-1.54 -1.2 24 24" fill="none" stroke="#fff" stroke-width="2" stroke-linecap="round" stroke-linejoin="round" style="position:absolute;left:8px;top:8px;overflow:visible;" ><path d="M4 20h4l10.5 -10.5a1.5 1.5 0 0 0 -4 -4l-10.5 10.5v4"/><path d="M13.5 6.5l4 4"/></svg></a>
<a class="ab" style="left:1498px;top:17.85px;background:#ff3a6e"><svg width="14" height="14" viewBox="-1.03 -0.343 24 24" fill="none" stroke="#fff" stroke-width="2" stroke-linecap="round" stroke-linejoin="round" style="position:absolute;left:8px;top:8px;overflow:visible;" ><path d="M4 7l16 0"/><path d="M10 11l0 6"/><path d="M14 11l0 6"/><path d="M5 7l1 12a2 2 0 0 0 2 2h8a2 2 0 0 0 2 -2l1 -12"/><path d="M9 7v-3a1 1 0 0 1 1 -1h4a1 1 0 0 1 1 1v3"/></svg></a>
</div>
<div class="row" role="row" style="top:630.25px">
<a class="idb" href="#"><span class="ctr" style="font-size:14px;font-weight:400;opacity:0.925;letter-spacing:0.057px;top:14.2px">#APP00000346</span></a>
<span class="cell" style="font-size:14px;font-weight:400;opacity:0.925;letter-spacing:0.248px;left:192px">15-11-2024</span>
<span class="cell" style="font-size:14px;font-weight:400;opacity:0.925;letter-spacing:0.200px;left:313.5px">11:00-12:00</span>
<span class="cell" style="font-size:14px;font-weight:400;opacity:0.925;letter-spacing:0.574px;left:446px">moka</span>
<span class="cell" style="font-size:14px;font-weight:400;opacity:0.925;letter-spacing:0.070px;left:586px">John Smith</span>
<span class="cell" style="font-size:14px;font-weight:400;opacity:0.925;letter-spacing:0.287px;left:724px">Collaborative Functions</span>
<span class="cell" style="font-size:14px;font-weight:400;opacity:0.925;letter-spacing:0.312px;left:927.5px">Quantum Code Studios</span>
<span class="cell" style="font-size:14px;font-weight:400;opacity:0.925;letter-spacing:0.469px;left:1151px">manually</span>
<span class="badge"><span class="ctr" style="font-size:14px;font-weight:400;-webkit-text-stroke:0.12px currentColor;letter-spacing:0.373px;top:8.45px">Pending</span></span>
<a class="ab" style="left:1458px;top:17.2px;background:#3ec9d6"><svg width="14" height="14" viewBox="-1.54 -1.2 24 24" fill="none" stroke="#fff" stroke-width="2" stroke-linecap="round" stroke-linejoin="round" style="position:absolute;left:8px;top:8px;overflow:visible;" ><path d="M4 20h4l10.5 -10.5a1.5 1.5 0 0 0 -4 -4l-10.5 10.5v4"/><path d="M13.5 6.5l4 4"/></svg></a>
<a class="ab" style="left:1498px;top:17.85px;background:#ff3a6e"><svg width="14" height="14" viewBox="-1.03 -0.343 24 24" fill="none" stroke="#fff" stroke-width="2" stroke-linecap="round" stroke-linejoin="round" style="position:absolute;left:8px;top:8px;overflow:visible;" ><path d="M4 7l16 0"/><path d="M10 11l0 6"/><path d="M14 11l0 6"/><path d="M5 7l1 12a2 2 0 0 0 2 2h8a2 2 0 0 0 2 -2l1 -12"/><path d="M9 7v-3a1 1 0 0 1 1 -1h4a1 1 0 0 1 1 1v3"/></svg></a>
</div>
<div class="row" role="row" style="top:696.0px">
<a class="idb" href="#"><span class="ctr" style="font-size:14px;font-weight:400;opacity:0.925;letter-spacing:0.057px;top:14.2px">#APP00000347</span></a>
<span class="cell" style="font-size:14px;font-weight:400;opacity:0.925;letter-spacing:0.248px;left:192px">15-11-2024</span>
<span class="cell" style="font-size:14px;font-weight:400;opacity:0.925;letter-spacing:0.200px;left:313.5px">11:00-12:00</span>
<span class="cell" style="font-size:14px;font-weight:400;opacity:0.925;letter-spacing:0.574px;left:446px">moka</span>
<span class="cell" style="font-size:14px;font-weight:400;opacity:0.925;letter-spacing:0.070px;left:586px">John Smith</span>
<span class="cell" style="font-size:14px;font-weight:400;opacity:0.925;letter-spacing:0.287px;left:724px">Collaborative Functions</span>
<span class="cell" style="font-size:14px;font-weight:400;opacity:0.925;letter-spacing:0.312px;left:927.5px">Quantum Code Studios</span>
<span class="cell" style="font-size:14px;font-weight:400;opacity:0.925;letter-spacing:0.469px;left:1151px">manually</span>
<span class="badge"><span class="ctr" style="font-size:14px;font-weight:400;-webkit-text-stroke:0.12px currentColor;letter-spacing:0.373px;top:8.45px">Pending</span></span>
<a class="ab" style="left:1458px;top:17.2px;background:#3ec9d6"><svg width="14" height="14" viewBox="-1.54 -1.2 24 24" fill="none" stroke="#fff" stroke-width="2" stroke-linecap="round" stroke-linejoin="round" style="position:absolute;left:8px;top:8px;overflow:visible;" ><path d="M4 20h4l10.5 -10.5a1.5 1.5 0 0 0 -4 -4l-10.5 10.5v4"/><path d="M13.5 6.5l4 4"/></svg></a>
<a class="ab" style="left:1498px;top:17.85px;background:#ff3a6e"><svg width="14" height="14" viewBox="-1.03 -0.343 24 24" fill="none" stroke="#fff" stroke-width="2" stroke-linecap="round" stroke-linejoin="round" style="position:absolute;left:8px;top:8px;overflow:visible;" ><path d="M4 7l16 0"/><path d="M10 11l0 6"/><path d="M14 11l0 6"/><path d="M5 7l1 12a2 2 0 0 0 2 2h8a2 2 0 0 0 2 -2l1 -12"/><path d="M9 7v-3a1 1 0 0 1 1 -1h4a1 1 0 0 1 1 1v3"/></svg></a>
</div>
</section></main>
</body></html>
